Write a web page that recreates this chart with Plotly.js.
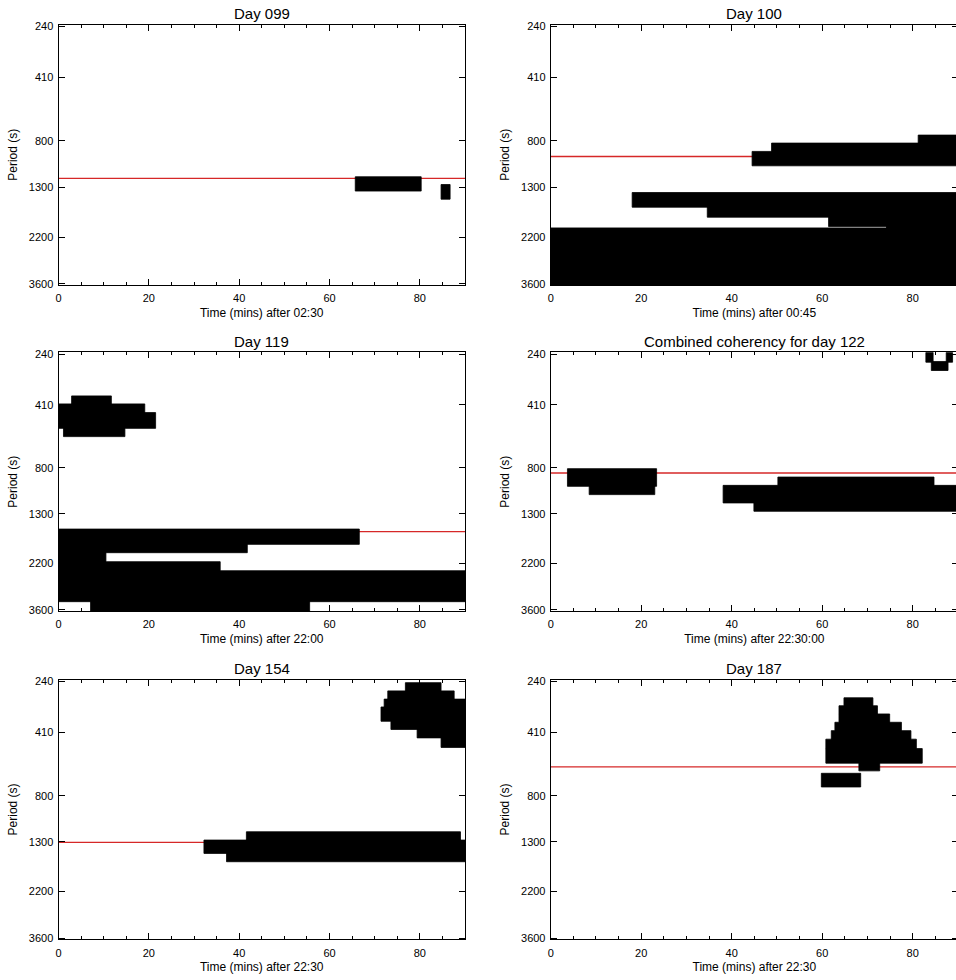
<!DOCTYPE html>
<html>
<head>
<meta charset="utf-8">
<script src="https://cdn.plot.ly/plotly-3.0.1.min.js"></script>
<style>
  html, body { margin: 0; padding: 0; background: #fff; overflow: hidden; }
  #chart { width: 962px; height: 980px; }
</style>
</head>
<body>
<div id="chart"></div>
<script>
// ---------------- data ----------------
// Panel titles, x-axis titles and the reference (red) period of each panel
const panelTitles = ["Day 099", "Day 100", "Day 119", "Combined coherency for day 122", "Day 154", "Day 187"];
const xTitles = ["Time (mins) after 02:30", "Time (mins) after 00:45", "Time (mins) after 22:00",
                 "Time (mins) after 22:30:00", "Time (mins) after 22:30", "Time (mins) after 22:30"];
const redPeriods = [1187, 942, 1571, 844, 1310, 591];

// Axis ticks
const xTickStep = 20;
const xMinorStep = 5;
const yTickVals = [240, 410, 800, 1300, 2200, 3600];
const yTickText = ["240", "410", "800", "1300", "2200", "3600"];
const timeRange = [0, 90];
const periodRange = [235, 3640];

// Coherent regions: [start min, end min, shorter period (s), longer period (s)]
const day099Mask = [
  [65.7, 80.3, 1166, 1355],
  [84.7, 86.7, 1265, 1476]
];
const day100Mask = [
  [81.2, 90, 752, 818],
  [48.8, 90, 818, 893],
  [44.5, 90, 893, 1039],
  [18.0, 90, 1376, 1606],
  [34.6, 90, 1606, 1784],
  [61.4, 90, 1784, 1969],
  [74.2, 90, 1960, 2000],
  [0, 90, 1997, 3640]
];
const day119Mask = [
  [2.9, 11.7, 373, 406],
  [0, 19.1, 406, 445],
  [0, 21.5, 445, 526],
  [1.1, 14.7, 526, 574],
  [0, 66.6, 1528, 1797],
  [0, 41.8, 1797, 1963],
  [0, 10.5, 1963, 2159],
  [0, 35.8, 2159, 2376],
  [0, 90, 2376, 3298],
  [7.1, 55.6, 3298, 3640]
];
const day122Mask = [
  [82.9, 84.5, 235, 261],
  [87.4, 88.8, 235, 261],
  [84.1, 87.8, 259, 285],
  [3.7, 23.4, 806, 972],
  [8.5, 23.0, 972, 1061],
  [50.2, 84.7, 881, 962],
  [38.1, 90, 962, 1159],
  [44.9, 90, 1159, 1266]
];
const day154Mask = [
  [76.8, 84.7, 243, 265],
  [72.9, 87.6, 265, 289],
  [72.1, 90, 289, 314],
  [71.4, 90, 314, 365],
  [73.6, 90, 365, 398],
  [79.4, 90, 398, 435],
  [84.7, 90, 435, 481],
  [41.6, 89, 1171, 1278],
  [32.2, 90, 1278, 1471],
  [37.2, 90, 1471, 1606]
];
const day187Mask = [
  [64.8, 71.2, 285, 310],
  [63.7, 72.2, 310, 338],
  [63.7, 74.9, 338, 369],
  [62.8, 77.5, 369, 403],
  [62.0, 79.6, 403, 441],
  [60.8, 80.8, 441, 487],
  [60.8, 82.1, 487, 568],
  [68.1, 72.7, 568, 616],
  [59.8, 68.5, 632, 730]
];
const masks = [day099Mask, day100Mask, day119Mask, day122Mask, day154Mask, day187Mask];

// ---------------- layout geometry ----------------
const W = 962, H = 980;
const colPx = [[58.5, 465], [550.7, 958]];
const rowPx = [[24.5, 285], [352.3, 611], [679.5, 939.3]];

const FONT = "Liberation Sans, Arial, Helvetica, sans-serif";
const traces = [];
const layout = {
  width: W, height: H,
  margin: {l: 0, r: 0, t: 0, b: 0},
  paper_bgcolor: "#fff", plot_bgcolor: "#fff",
  showlegend: false,
  font: {family: FONT, color: "#000", size: 11},
  annotations: []
};

for (let i = 0; i < 6; i++) {
  const r = Math.floor(i / 2), c = i % 2;
  const n = i + 1;
  const xa = n === 1 ? "x" : "x" + n;
  const ya = n === 1 ? "y" : "y" + n;
  const xKey = n === 1 ? "xaxis" : "xaxis" + n;
  const yKey = n === 1 ? "yaxis" : "yaxis" + n;
  const xd = [colPx[c][0] / W, colPx[c][1] / W];
  const yd = [1 - rowPx[r][1] / H, 1 - rowPx[r][0] / H];

  layout[xKey] = {
    domain: xd, anchor: ya, range: timeRange,
    tickmode: "linear", tick0: 0, dtick: xTickStep,
    ticks: "inside", ticklen: 6, tickwidth: 1, tickcolor: "#000",
    minor: {tickmode: "linear", tick0: 0, dtick: xMinorStep, ticks: "inside", ticklen: 3, tickwidth: 1, tickcolor: "#000", showgrid: false},
    showline: true, linecolor: "#000", linewidth: 1, mirror: "ticks",
    showgrid: false, zeroline: false,
    ticklabelstandoff: 3,
    tickfont: {family: FONT, size: 11, color: "#000"},
    title: {text: xTitles[i], font: {family: FONT, size: 12, color: "#000", weight: "normal"}, standoff: 5},
    automargin: false, fixedrange: true
  };
  layout[yKey] = {
    domain: yd, anchor: xa, type: "log",
    range: [Math.log10(periodRange[1]), Math.log10(periodRange[0])],
    tickmode: "array", tickvals: yTickVals, ticktext: yTickText,
    ticks: "inside", ticklen: 6, tickwidth: 1, tickcolor: "#000",
    showline: true, linecolor: "#000", linewidth: 1, mirror: "ticks",
    showgrid: false, zeroline: false,
    ticklabelstandoff: 2,
    tickfont: {family: FONT, size: 11, color: "#000"},
    title: {text: "Period (s)", font: {family: FONT, size: 12, color: "#000", weight: "normal"}, standoff: 8},
    automargin: false, fixedrange: true
  };

  // panel title
  layout.annotations.push({
    text: panelTitles[i], xref: "paper", yref: "paper",
    x: (xd[0] + xd[1]) / 2, y: yd[1], xanchor: "center", yanchor: "middle",
    yshift: 11, showarrow: false,
    font: {family: FONT, size: 15, color: "#000", weight: "normal"}
  });

  // reference red line
  traces.push({
    type: "scatter", mode: "lines", xaxis: xa, yaxis: ya,
    x: timeRange, y: [redPeriods[i], redPeriods[i]],
    line: {color: "rgb(214,40,40)", width: 1.3}, hoverinfo: "skip"
  });

  // coherent regions
  const xs = [], ys = [];
  masks[i].forEach(function (m) {
    xs.push(m[0], m[1], m[1], m[0], m[0], null);
    ys.push(m[2], m[2], m[3], m[3], m[2], null);
  });
  traces.push({
    type: "scatter", mode: "lines", xaxis: xa, yaxis: ya,
    x: xs, y: ys, fill: "toself", fillcolor: "#000",
    line: {color: "#000", width: 0.8}, connectgaps: false, hoverinfo: "skip"
  });
}

Plotly.newPlot("chart", traces, layout, {staticPlot: true, displayModeBar: false});
</script>
</body>
</html>
